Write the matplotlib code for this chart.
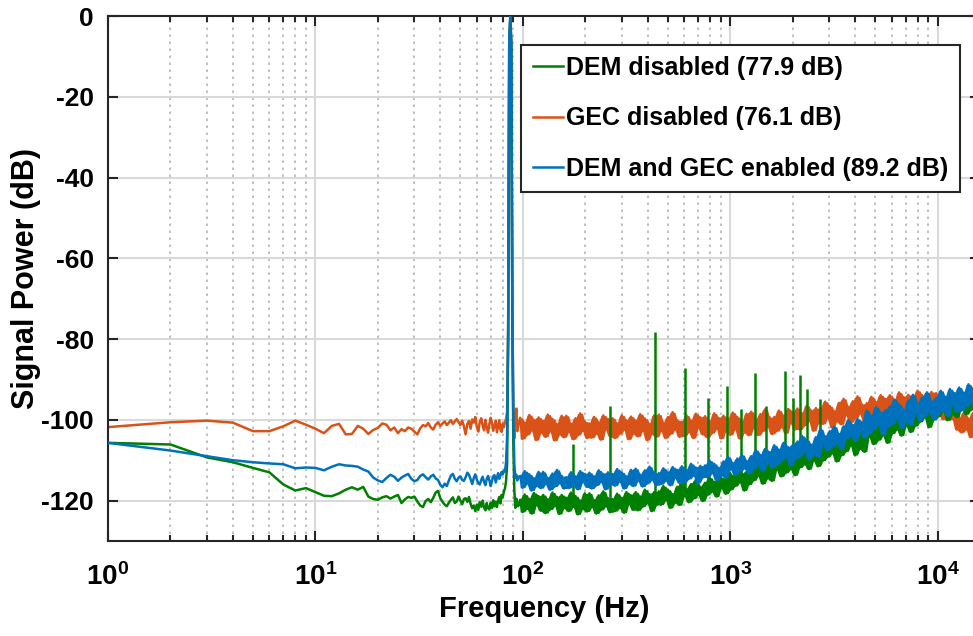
import matplotlib
matplotlib.use("Agg")
import matplotlib.pyplot as plt
import matplotlib.ticker as ticker
import numpy as np
import pandas as pd

plt.rcParams["font.family"] = "Liberation Sans"
plt.rcParams["font.weight"] = "bold"
plt.rcParams["axes.unicode_minus"] = False
plt.rcParams["mathtext.fontset"] = "custom"
plt.rcParams["mathtext.bf"] = "Liberation Sans:bold"
plt.rcParams["mathtext.rm"] = "Liberation Sans:bold"

# 1 Hz FFT bins up to just past the test tone
bins_lo = np.arange(1, 96)
# above that the spectrum is kept on a log-spaced grid
bins_hi = np.geomspace(97, 16000, 200)

dem_off_lo = [
    -105.7, -106.1, -109.3, -110.5, -111.9, -113.0, -116.0, -117.5, -116.9, -117.9,
    -118.8, -118.9, -118.2, -117.3, -116.7, -117.3, -116.6, -119.0, -119.6, -119.8,
    -119.2, -118.9, -119.5, -119.0, -118.6, -120.6, -119.7, -119.1, -119.3, -119.0,
    -120.2, -121.2, -121.6, -120.1, -119.6, -120.4, -119.3, -118.0, -117.6, -119.4,
    -120.3, -121.0, -121.4, -120.5, -119.8, -119.2, -120.6, -120.2, -119.0, -120.0,
    -120.9, -119.6, -119.4, -120.3, -119.1, -120.8, -121.9, -121.2, -122.6, -121.0,
    -122.3, -120.4, -121.5, -120.0, -121.7, -122.4, -120.6, -121.9, -122.2, -120.5,
    -121.8, -119.9, -121.4, -120.3, -121.6, -120.0, -119.1, -120.7, -118.6, -119.2,
    -117.8, -117.0, -115.2, -111.0, -80.0, -7.0, -0.5, -7.5, -76.0, -106.0,
    -117.5, -121.8, -119.5, -120.8, -121.4,
]
gec_off_lo = [
    -101.8, -100.6, -100.2, -100.7, -102.8, -102.8, -101.6, -100.2, -101.2, -102.2,
    -103.3, -101.5, -101.0, -103.6, -103.5, -101.5, -102.2, -103.5, -102.5, -102.0,
    -100.9, -101.2, -102.6, -101.9, -103.3, -102.3, -102.8, -101.9, -102.2, -102.9,
    -103.6, -102.1, -101.3, -101.6, -100.8, -101.9, -102.4, -101.2, -100.6, -101.5,
    -100.9, -100.4, -101.3, -100.7, -100.1, -101.0, -100.4, -99.8, -100.6, -101.3,
    -100.2, -101.6, -103.6, -101.0, -100.3, -102.2, -99.9, -100.7, -99.3, -101.8,
    -102.9, -100.5, -99.6, -101.4, -102.6, -100.0, -101.9, -103.2, -101.0, -99.5,
    -100.8, -102.7, -101.4, -100.2, -103.1, -101.6, -100.1, -102.4, -103.0, -100.9,
    -101.8, -100.6, -99.8, -98.0, -78.0, -6.5, -0.3, -7.0, -72.0, -97.5,
    -104.6, -100.5, -97.2, -102.8, -101.4,
]
both_on_lo = [
    -105.7, -107.6, -109.0, -110.0, -110.5, -110.8, -111.0, -112.0, -111.8, -111.9,
    -112.5, -111.6, -111.0, -111.3, -111.4, -111.6, -112.3, -112.8, -114.3, -115.0,
    -115.4, -114.4, -113.6, -114.1, -115.1, -114.3, -113.8, -113.4, -114.6, -115.2,
    -114.9, -113.9, -113.5, -114.2, -114.8, -114.0, -113.6, -114.5, -114.9, -116.1,
    -116.7, -115.8, -116.4, -115.0, -113.8, -113.4, -114.6, -115.2, -114.3, -114.0,
    -114.9, -115.1, -114.2, -113.1, -113.6, -114.7, -115.9, -114.4, -113.5, -114.8,
    -115.7, -116.0, -114.9, -114.1, -115.3, -116.2, -114.6, -113.9, -115.0, -116.4,
    -115.1, -114.0, -113.7, -115.5, -114.3, -113.2, -114.6, -113.8, -112.9, -113.5,
    -112.6, -112.8, -110.5, -104.0, -75.0, -6.0, -0.2, -6.5, -70.0, -100.0,
    -111.0, -114.3, -113.6, -115.0, -114.2,
]

dem_off_hi = [
    -119.8, -122.8, -118.5, -122.0, -119.6, -123.2, -118.1, -121.1, -118.9, -122.5,
    -118.6, -123.1, -119.7, -122.2, -118.0, -121.3, -119.1, -123.3, -118.6, -121.8,
    -119.3, -122.6, -118.0, -121.5, -118.9, -123.4, -120.0, -122.1, -118.2, -122.7,
    -118.2, -121.6, -119.9, -123.2, -118.7, -122.3, -117.7, -121.4, -119.4, -122.9,
    -119.6, -122.6, -118.3, -121.8, -119.4, -123.0, -117.9, -120.9, -118.7, -122.3,
    -117.9, -122.4, -119.0, -121.5, -117.3, -120.6, -118.4, -122.6, -117.9, -121.1,
    -117.7, -121.0, -116.4, -119.9, -117.3, -121.8, -118.4, -120.5, -116.6, -121.1,
    -115.4, -118.8, -117.1, -120.4, -115.9, -119.5, -114.9, -118.6, -116.6, -120.1,
    -115.6, -118.6, -114.3, -117.8, -115.4, -119.0, -113.9, -116.9, -114.7, -118.3,
    -112.8, -117.3, -113.9, -116.4, -112.2, -115.5, -113.3, -117.5, -112.8, -116.0,
    -111.7, -115.0, -110.4, -113.9, -111.3, -115.8, -112.4, -114.5, -110.6, -115.1,
    -109.0, -112.4, -110.7, -114.0, -109.5, -113.1, -108.5, -112.2, -110.2, -113.7,
    -108.8, -111.8, -107.5, -111.0, -108.6, -112.2, -107.1, -110.1, -107.9, -111.5,
    -105.6, -110.1, -106.7, -109.2, -105.0, -108.3, -106.1, -110.3, -105.6, -108.8,
    -103.9, -107.8, -102.3, -106.4, -103.4, -108.7, -104.7, -107.2, -102.6, -107.9,
    -100.2, -104.2, -102.2, -106.0, -100.8, -105.0, -99.6, -103.9, -101.6, -105.7,
    -99.9, -103.4, -98.3, -102.4, -99.6, -103.9, -97.9, -101.4, -98.8, -103.0,
    -96.3, -101.5, -97.5, -100.5, -95.6, -99.4, -96.8, -101.8, -96.2, -100.0,
    -95.3, -99.2, -93.7, -97.8, -94.8, -100.1, -96.1, -98.6, -94.0, -99.3,
    -92.8, -96.8, -94.8, -98.6, -93.4, -97.6, -92.2, -96.5, -94.2, -98.3,
]
gec_off_hi = [
    -99.5, -104.7, -100.7, -103.7, -98.8, -102.6, -100.0, -105.0, -99.4, -103.2,
    -100.3, -104.2, -98.7, -102.8, -99.8, -105.1, -101.1, -103.6, -99.0, -104.3,
    -99.0, -103.0, -101.0, -104.8, -99.6, -103.8, -98.4, -102.7, -100.4, -104.5,
    -100.9, -104.4, -99.3, -103.4, -100.6, -104.9, -98.9, -102.4, -99.8, -104.0,
    -99.6, -104.5, -100.9, -103.5, -98.9, -102.4, -100.2, -104.8, -99.2, -103.4,
    -100.2, -104.1, -98.6, -102.7, -99.7, -105.0, -101.0, -103.5, -98.9, -104.2,
    -98.7, -102.7, -100.7, -104.5, -99.3, -103.5, -98.1, -102.4, -100.1, -104.2,
    -100.5, -104.0, -98.9, -103.0, -100.2, -104.5, -98.5, -102.0, -99.4, -103.6,
    -99.1, -104.3, -100.3, -103.3, -98.4, -102.2, -99.6, -104.6, -99.0, -102.8,
    -99.8, -103.7, -98.2, -102.3, -99.3, -104.6, -100.6, -103.1, -98.5, -103.8,
    -98.0, -102.0, -100.0, -103.8, -98.6, -102.8, -97.4, -101.7, -99.4, -103.5,
    -99.3, -102.8, -97.7, -101.8, -99.0, -103.3, -97.3, -100.8, -98.2, -102.4,
    -97.2, -102.4, -98.4, -101.4, -96.5, -100.3, -97.7, -102.7, -97.1, -100.9,
    -97.1, -101.0, -95.5, -99.6, -96.6, -101.9, -97.9, -100.4, -95.8, -101.1,
    -94.8, -98.8, -96.8, -100.6, -95.4, -99.6, -94.2, -98.5, -96.2, -100.3,
    -95.9, -99.4, -94.3, -98.4, -95.6, -99.9, -93.9, -97.4, -94.8, -99.0,
    -93.9, -99.1, -95.1, -98.1, -93.2, -97.0, -94.4, -99.4, -93.8, -97.6,
    -94.4, -98.3, -92.8, -96.9, -93.9, -99.2, -95.2, -97.7, -93.1, -98.4,
    -93.4, -97.4, -96.0, -99.8, -95.5, -100.0, -94.8, -99.8, -98.4, -102.4,
    -99.6, -103.1, -98.2, -102.4, -99.7, -104.3, -98.3, -101.9, -99.3, -103.5,
]
both_on_hi = [
    -113.9, -116.8, -112.7, -115.8, -113.5, -117.5, -114.5, -116.4, -112.9, -116.9,
    -112.9, -115.9, -114.4, -117.3, -113.3, -116.5, -112.4, -115.7, -113.9, -117.0,
    -114.2, -116.9, -113.0, -116.1, -114.0, -117.2, -112.7, -115.4, -113.4, -116.6,
    -113.1, -117.0, -114.0, -116.2, -112.5, -115.4, -113.4, -117.2, -113.0, -115.9,
    -113.4, -116.3, -112.2, -115.3, -113.0, -117.0, -114.0, -115.9, -112.4, -116.4,
    -112.1, -115.1, -113.6, -116.5, -112.5, -115.7, -111.6, -114.9, -113.1, -116.2,
    -113.2, -115.9, -112.0, -115.1, -113.0, -116.2, -111.7, -114.4, -112.4, -115.6,
    -111.5, -115.4, -112.4, -114.6, -110.9, -113.8, -111.8, -115.6, -111.4, -114.3,
    -111.3, -114.2, -110.1, -113.2, -110.9, -114.9, -111.9, -113.8, -110.3, -114.3,
    -109.2, -112.2, -110.7, -113.6, -109.6, -112.8, -108.7, -112.0, -110.2, -113.3,
    -109.0, -112.1, -107.5, -111.2, -108.7, -112.6, -107.2, -110.3, -108.0, -111.8,
    -106.3, -111.0, -107.4, -110.1, -105.7, -109.1, -106.8, -111.3, -106.2, -109.7,
    -105.4, -109.0, -104.0, -107.7, -105.0, -109.8, -106.2, -108.4, -104.3, -109.1,
    -102.3, -105.9, -104.1, -107.5, -102.8, -106.6, -101.7, -105.6, -103.5, -107.2,
    -101.6, -104.7, -100.1, -103.8, -101.3, -105.2, -99.8, -102.9, -100.6, -104.4,
    -97.7, -103.4, -99.0, -102.3, -96.9, -101.1, -98.2, -103.7, -97.6, -101.7,
    -96.7, -101.0, -95.0, -99.5, -96.2, -102.0, -97.6, -100.4, -95.3, -101.2,
    -93.8, -98.2, -96.0, -100.2, -94.5, -99.1, -93.2, -97.9, -95.4, -99.9,
    -94.6, -98.5, -92.8, -97.4, -94.3, -99.0, -92.4, -96.3, -93.4, -98.0,
    -92.0, -97.7, -93.3, -96.6, -91.2, -95.4, -92.5, -98.0, -91.9, -96.0,
]

# tone harmonics that show up with DEM disabled
spur_hz = [175, 262, 436, 608, 782, 960, 1133, 1310, 1480, 1827, 2004, 2168, 2350, 2697]
spur_db = [-106.1, -96.6, -78.3, -87.1, -94.6, -91.5, -97.4, -88.4, -96.5, -87.8,
           -94.5, -89.0, -92.3, -94.8]
spur_floor_db = [-121.0, -120.5, -119.0, -117.5, -116.5, -115.5, -114.0, -113.0,
                 -112.5, -111.0, -110.5, -110.0, -109.5, -108.5]

labels = ["DEM disabled (77.9 dB)", "GEC disabled (76.1 dB)",
          "DEM and GEC enabled (89.2 dB)"]
c_green = "#008000"
c_orange = "#D95319"
c_blue = "#0072BD"


def noise_band(ax, y, color, z):
    # the full-resolution spectrum fills the band between neighbouring extremes
    s = pd.Series(y)
    lo = s.rolling(3, center=True, min_periods=1).min()
    hi = s.rolling(3, center=True, min_periods=1).max()
    ax.fill_between(bins_hi, lo, hi, color=color, lw=0, zorder=z)


fig = plt.figure(figsize=(9.73, 6.36), dpi=100)
ax = fig.add_axes([108 / 973, 95 / 636, 872 / 973, 525 / 636])

lw = 1.8
series = [
    (gec_off_lo, gec_off_hi, c_orange, 2),
    (dem_off_lo, dem_off_hi, c_green, 3),
    (both_on_lo, both_on_hi, c_blue, 4),
]
handles = []
for lo_db, hi_db, color, z in series:
    freq = np.concatenate([bins_lo, bins_hi])
    db = np.concatenate([lo_db, hi_db])
    line, = ax.plot(freq, db, color=color, lw=lw, zorder=z)
    noise_band(ax, hi_db, color, z)
    handles.append(line)
    if color == c_green:
        ax.vlines(spur_hz, spur_floor_db, spur_db, color=c_green, lw=lw, zorder=z)
l_gec, l_dem, l_both = handles

ax.set_xscale("log")
ax.set_xlim(1, 16000)
ax.set_ylim(-130, 0)
ax.set_yticks(np.arange(-120, 1, 20))
ax.xaxis.set_major_locator(ticker.LogLocator(base=10, numticks=10))
ax.xaxis.set_minor_locator(ticker.LogLocator(base=10, subs=np.arange(2, 10), numticks=20))
ax.xaxis.set_minor_formatter(ticker.NullFormatter())
ax.xaxis.set_major_formatter(ticker.FuncFormatter(
    lambda v, p: r"$\mathbf{10^{%d}}$" % round(np.log10(v))))

ax.grid(which="major", color="#d9d9d9", lw=1.5, ls="-", zorder=0)
ax.grid(which="minor", axis="x", color="#b5b5b5", lw=1.2, ls=(0, (1.5, 2.7)), zorder=0)
ax.set_axisbelow(True)

ax.tick_params(which="both", direction="in", top=True, right=True,
               color="#262626", width=1.5, labelsize=19, pad=10)
ax.tick_params(axis="x", which="major", labelsize=20, pad=16)
ax.tick_params(which="major", length=7)
ax.tick_params(which="minor", length=4.5)
for s in ax.spines.values():
    s.set_color("#262626")
    s.set_linewidth(1.5)

ax.set_xlabel("Frequency (Hz)", fontsize=21, fontweight="bold", labelpad=3)
ax.set_ylabel("Signal Power (dB)", fontsize=22, fontweight="bold", labelpad=0)

leg = ax.legend([l_dem, l_gec, l_both], labels, loc="upper right",
                bbox_to_anchor=(0.977, 0.945), borderaxespad=0, fontsize=18,
                fancybox=False, edgecolor="#262626", framealpha=1,
                handlelength=1.2, handletextpad=0.15, labelspacing=1.05,
                borderpad=0.45)
leg.get_frame().set_linewidth(1.5)
leg.set_zorder(10)

fig.savefig("out.png", dpi=100)
